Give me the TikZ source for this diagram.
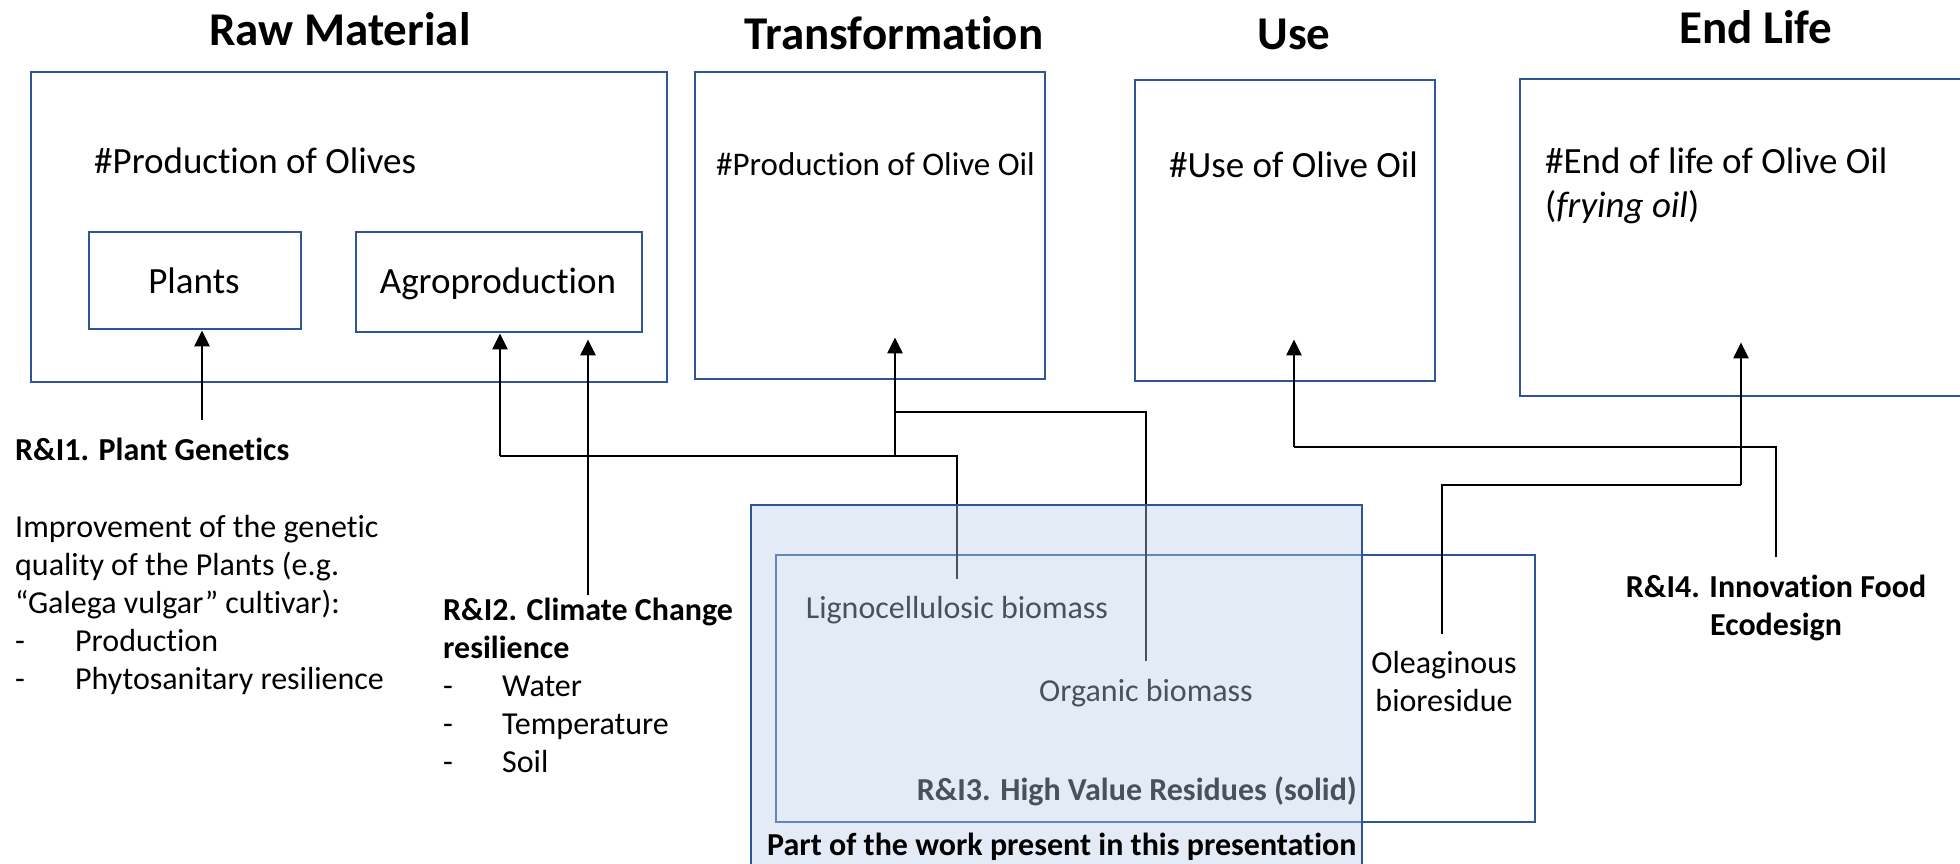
\documentclass[tikz,border=0pt]{standalone}
\usepackage{fontspec}
\setmainfont{Carlito}[Ligatures={NoCommon}]
\usetikzlibrary{arrows.meta,calc}
\definecolor{bblue}{HTML}{2F5597}
\definecolor{ovl}{HTML}{B8CCEA}
\begin{document}
\begin{tikzpicture}[x=1pt,y=-1pt,
  box/.style={draw=bblue,line width=2.4pt,inner sep=0pt,anchor=north west},
  arr/.style={-{Triangle[length=16pt,width=15pt]},line width=2.4pt,black},
  ln/.style={line width=2.4pt,black},
  ttl/.style={font=\fontsize{47}{56}\selectfont\bfseries,anchor=base,inner sep=0pt},
  hdr/.style={font=\fontsize{37}{44}\selectfont,anchor=base west,inner sep=0pt},
  bodytxt/.style={font=\fontsize{32}{38}\selectfont,inner sep=0pt},
  boldtxt/.style={font=\fontsize{32}{38}\selectfont\bfseries,inner sep=0pt},
]
\clip (0,0) rectangle (1960,863);
\useasboundingbox (0,0) rectangle (1960,863);

% titles
\node[ttl] (t1) at (340,45) {Raw Material};
\node[ttl] (t2) at (894,49) {Transformation};
\node[ttl] (t3) at (1294,49) {Use};
\node[ttl] (t4) at (1756,43) {End Life};

% main boxes
\node[box,minimum width=636pt,minimum height=310pt] (raw) at (30,71) {};
\node[box,minimum width=212pt,minimum height=97pt] (plants) at (88,231) {};
\node[box,minimum width=286pt,minimum height=100pt] (agro) at (355,231) {};
\node[box,minimum width=350pt,minimum height=307pt] (trans) at (694,71) {};
\node[box,minimum width=300pt,minimum height=301pt] (use) at (1134,79) {};
\node[box,minimum width=480pt,minimum height=317pt] (endl) at (1519,78) {};

\node[hdr] (h1) at (94,173) {\#Production of Olives};
\node[hdr,font=\fontsize{33}{40}\selectfont] (h2) at (716,175) {\#Production of Olive Oil};
\node[hdr] (h3) at (1169,177) {\#Use of Olive Oil};
\node[hdr] (h4) at (1545,173) {\parbox[t]{400pt}{\raggedright\fontsize{37}{44}\selectfont \#End of life of Olive Oil\\(\textit{frying oil})}};
\node[hdr,anchor=base] (pl) at (194,293) {Plants};
\node[hdr,anchor=base] (ag) at (498,293) {Agroproduction};

% left texts
\node[boldtxt,anchor=base west] (ri1) at (15,460) {R\&I1. Plant Genetics};
\node[bodytxt,anchor=base west] (ri1t) at (15,537) {\parbox[t]{420pt}{\raggedright\fontsize{32}{38}\selectfont
Improvement of the genetic\\
quality of the Plants (e.g.\\
“Galega vulgar” cultivar):\\
\makebox[60pt][l]{-}Production\\
\makebox[60pt][l]{-}Phytosanitary resilience}};
\node[bodytxt,anchor=base west] (ri2) at (443,620) {\parbox[t]{320pt}{\raggedright\fontsize{32}{38}\selectfont
\textbf{R\&I2. Climate Change}\\
\textbf{resilience}\\
\makebox[59pt][l]{-}Water\\
\makebox[59pt][l]{-}Temperature\\
\makebox[59pt][l]{-}Soil}};

% R&I4
\node[boldtxt,anchor=base] (ri4) at (1776,597) {\parbox[t]{400pt}{\centering\fontsize{32}{38}\selectfont\bfseries R\&I4. Innovation Food\\Ecodesign}};

% residues area
\node[box,minimum width=759pt,minimum height=267pt] (inner) at (775,554) {};
\node[bodytxt,anchor=base] (ligno) at (957,618) {Lignocellulosic biomass};
\node[bodytxt,anchor=base] (org) at (1146,701) {Organic biomass};
\node[boldtxt,anchor=base east] (ri3) at (1357,800) {R\&I3. High Value Residues (solid)};
\node[bodytxt,anchor=base] (oleo) at (1444,673) {\parbox[t]{200pt}{\centering\fontsize{32}{38}\selectfont Oleaginous\\bioresidue}};

% connectors
\coordinate (p1) at (202,420);
\draw[arr] (p1) -- (p1 |- plants.south);
\coordinate (j1) at (500,456);
\coordinate (j2) at (895,456);
\coordinate (j3) at (895,412);
\coordinate (lt) at (957,579);
\draw[ln] (lt) |- (j1);
\draw[arr] (j1) -- (j1 |- agro.south);
\draw[arr] (j2) -- ($(j2 |- trans.south)+(0,-43)$);
\coordinate (ot) at (1146,661);
\draw[ln] (ot) |- (j3);
\coordinate (r2t) at (588,595);
\draw[arr] (r2t) -- ($(r2t |- agro.south)+(0,6)$);
\coordinate (r4t) at (1776,557);
\coordinate (j4) at (1294,447);
\draw[ln] (r4t) |- (j4);
\draw[arr] (j4) -- ($(j4 |- use.south)+(0,-43)$);
\coordinate (olt) at (1442,634);
\coordinate (j5) at (1741,485);
\draw[ln] (olt) |- (j5);
\draw[arr] (j5) -- ($(j5 |- endl.south)+(0,-55)$);

% overlay box
\node[box,minimum width=611pt,minimum height=420pt,fill=ovl,fill opacity=0.4,draw opacity=1] (big) at (750,504) {};
\node[boldtxt,anchor=base west] (part) at (767,855) {Part of the work present in this presentation};
\end{tikzpicture}
\end{document}
